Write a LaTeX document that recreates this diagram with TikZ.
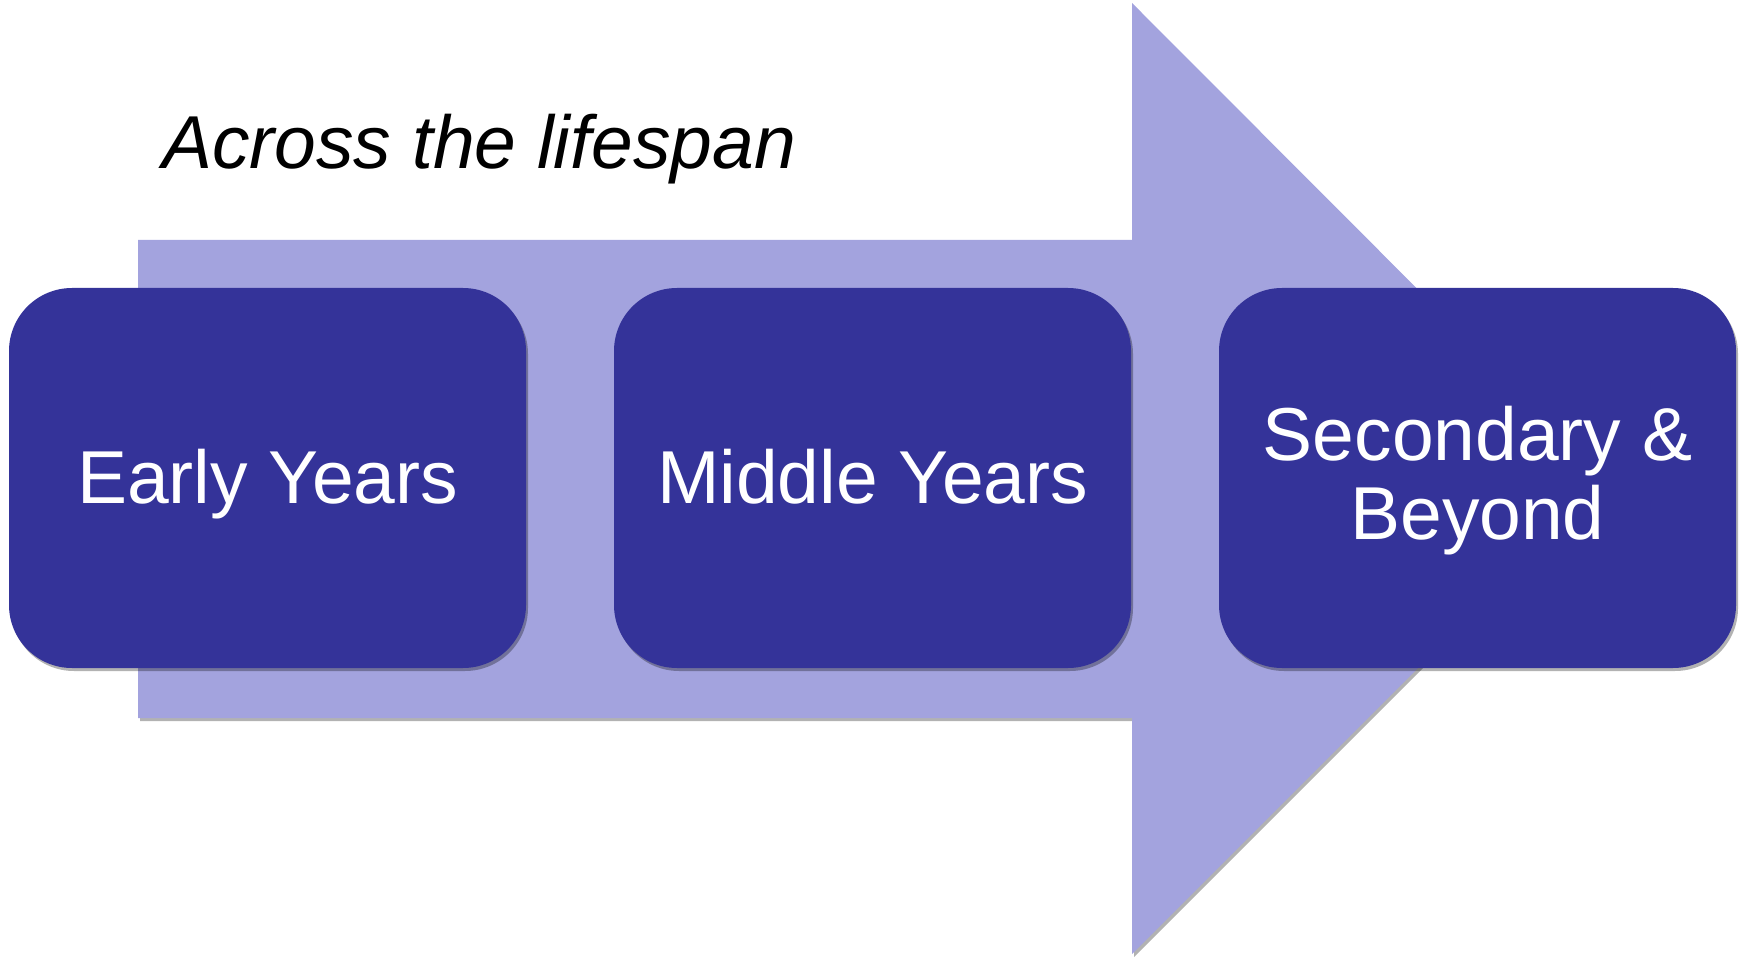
\documentclass[tikz,border=0pt]{standalone}
\usepackage{fontspec}
\setmainfont{Liberation Sans}
\usetikzlibrary{shadows}
\definecolor{stagefill}{RGB}{52,51,153}
\definecolor{arrowfill}{RGB}{163,163,222}
\tikzset{
  softshadow/.style={drop shadow={shadow xshift=2pt,shadow yshift=-3pt,opacity=.3,fill=black}},
  stage/.style={fill=stagefill,rounded corners=63pt,minimum width=517pt,
    minimum height=380pt,inner sep=0pt,text=white,align=center,
    font=\fontsize{75}{79}\selectfont,softshadow},
  oneline/.style={text height=54pt,text depth=4pt},
}
\begin{document}
\begin{tikzpicture}[x=1pt,y=-1pt]
  \useasboundingbox (0,0) rectangle (1745,957);
  \fill [arrowfill,softshadow]
    (138,240) -- (1132,240) -- (1132,3) -- (1607,479) -- (1132,954)
    -- (1132,718) -- (138,718) -- cycle;
  \node [anchor=base west,inner sep=0pt,font=\fontsize{75}{75}\selectfont\itshape]
    (title) at (162,169) {Across the lifespan};
  \node [stage,oneline] (early) at (267.5,478) {Early Years};
  \node [stage,oneline] (middle) at (872.5,478) {Middle Years};
  \node [stage,text height=136pt,text depth=14pt] (beyond) at (1477.5,478) {Secondary \&\\Beyond};
\end{tikzpicture}
\end{document}
